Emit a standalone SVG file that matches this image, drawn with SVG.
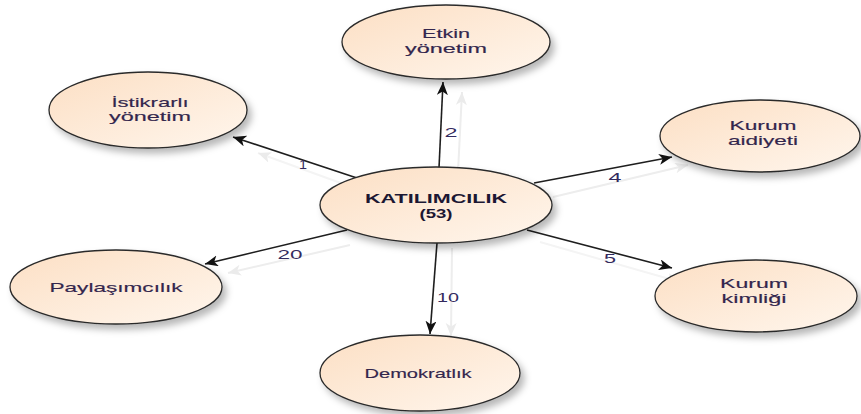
<svg xmlns="http://www.w3.org/2000/svg" width="861" height="414" viewBox="0 0 861 414">
  <defs>
    <linearGradient id="nodeFill" x1="0" y1="0" x2="1" y2="1">
      <stop offset="0" stop-color="#fcdfc4"/>
      <stop offset="1" stop-color="#fff6ed"/>
    </linearGradient>
    <filter id="soft" x="-20%" y="-30%" width="145%" height="170%">
      <feDropShadow dx="4" dy="5" stdDeviation="3.5" flood-color="#000" flood-opacity="0.28"/>
    </filter>
    <marker id="head" markerUnits="userSpaceOnUse" markerWidth="14" markerHeight="12" refX="13" refY="5.5" orient="auto">
      <path d="M0,0 L13,5.5 L0,11 L3.5,5.5 Z" fill="#111"/>
    </marker>
    <marker id="ghostHead" markerUnits="userSpaceOnUse" markerWidth="14" markerHeight="12" refX="13" refY="5.5" orient="auto">
      <path d="M0,0 L13,5.5 L0,11 L3.5,5.5 Z" fill="#ebebeb"/>
    </marker>
    <style>
      .node ellipse { fill: url(#nodeFill); stroke: #2a2a2a; stroke-width: 1.3; filter: url(#soft); }
      .node text { font-family: "Liberation Sans", Arial, sans-serif; font-size: 13px; fill: #33264d; text-anchor: middle; stroke: #33264d; stroke-width: 0.15; }
      .node text.main { font-weight: bold; fill: #1c1733; stroke: none; }
      .edge { stroke: #1e1e1e; stroke-width: 1.6; fill: none; marker-end: url(#head); }
      .ghost { stroke: #ededed; stroke-width: 2; fill: none; marker-end: url(#ghostHead); }
      .ghost.faint { stroke: #f4f4f4; }
      .lbl { font-family: "Liberation Sans", Arial, sans-serif; font-size: 13px; fill: #332a5e; text-anchor: middle; }
    </style>
  </defs>

  <rect width="861" height="414" fill="#ffffff"/>

  <!-- connectors: faint offset trails first, then the main arrows and their weights -->
  <g id="connectors">
    <line class="ghost" x1="458" y1="172" x2="462" y2="92"/>
    <line class="ghost" x1="452" y1="248" x2="451" y2="336"/>
    <line class="ghost" x1="553" y1="197" x2="688" y2="165"/>
    <line class="ghost" x1="350" y1="245" x2="228" y2="273"/>
    <line class="ghost faint" x1="360" y1="190" x2="258" y2="153"/>
    <line class="ghost faint" x1="540" y1="242" x2="680" y2="282"/>

    <line class="edge" x1="357" y1="178" x2="233" y2="137"/>
    <line class="edge" x1="439" y1="168" x2="443" y2="82"/>
    <line class="edge" x1="534" y1="183" x2="672" y2="157"/>
    <line class="edge" x1="347" y1="230" x2="205" y2="264"/>
    <line class="edge" x1="437" y1="243" x2="430" y2="334"/>
    <line class="edge" x1="527" y1="230" x2="672" y2="268"/>

    <text class="lbl" x="303" y="169" textLength="8" lengthAdjust="spacingAndGlyphs">1</text>
    <text class="lbl" x="451" y="137" textLength="13" lengthAdjust="spacingAndGlyphs">2</text>
    <text class="lbl" x="615" y="182" textLength="13" lengthAdjust="spacingAndGlyphs">4</text>
    <text class="lbl" x="290" y="259" textLength="25" lengthAdjust="spacingAndGlyphs">20</text>
    <text class="lbl" x="448" y="302" textLength="22" lengthAdjust="spacingAndGlyphs">10</text>
    <text class="lbl" x="610" y="263" textLength="12" lengthAdjust="spacingAndGlyphs">5</text>
  </g>

  <g id="etkin-yonetim" class="node">
    <ellipse cx="446" cy="42" rx="104" ry="37"/>
    <text x="446" y="38" textLength="48" lengthAdjust="spacingAndGlyphs">Etkin</text>
    <text x="446" y="53" textLength="82" lengthAdjust="spacingAndGlyphs">yönetim</text>
  </g>

  <g id="istikrarli-yonetim" class="node">
    <ellipse cx="148" cy="110" rx="99" ry="38"/>
    <text x="150" y="107" textLength="77" lengthAdjust="spacingAndGlyphs">İstikrarlı</text>
    <text x="150" y="121" textLength="82" lengthAdjust="spacingAndGlyphs">yönetim</text>
  </g>

  <g id="kurum-aidiyeti" class="node">
    <ellipse cx="760" cy="136" rx="100" ry="36"/>
    <text x="763" y="130" textLength="67" lengthAdjust="spacingAndGlyphs">Kurum</text>
    <text x="763" y="145" textLength="70" lengthAdjust="spacingAndGlyphs">aidiyeti</text>
  </g>

  <g id="katilimcilik" class="node">
    <ellipse cx="436" cy="205" rx="116" ry="38"/>
    <text class="main" x="436" y="203" textLength="142" lengthAdjust="spacingAndGlyphs">KATILIMCILIK</text>
    <text class="main" x="436" y="218" textLength="33" lengthAdjust="spacingAndGlyphs">(53)</text>
  </g>

  <g id="paylasimcilik" class="node">
    <ellipse cx="116" cy="287" rx="106" ry="37"/>
    <text x="116" y="292" textLength="133" lengthAdjust="spacingAndGlyphs">Paylaşımcılık</text>
  </g>

  <g id="kurum-kimligi" class="node">
    <ellipse cx="756" cy="296" rx="101" ry="36"/>
    <text x="754" y="288" textLength="68" lengthAdjust="spacingAndGlyphs">Kurum</text>
    <text x="754" y="303" textLength="65" lengthAdjust="spacingAndGlyphs">kimliği</text>
  </g>

  <g id="demokratlik" class="node">
    <ellipse cx="420" cy="373" rx="100" ry="38"/>
    <text x="418" y="378" textLength="107" lengthAdjust="spacingAndGlyphs">Demokratlık</text>
  </g>
</svg>
